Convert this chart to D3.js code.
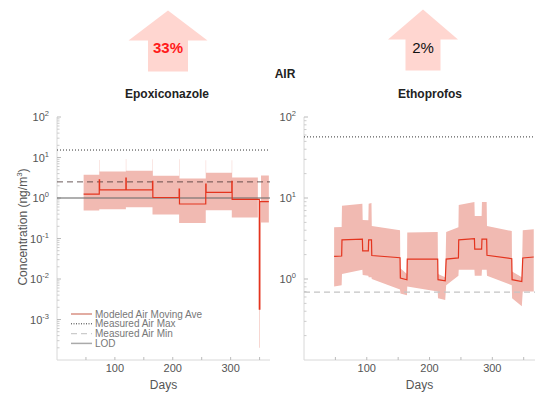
<!DOCTYPE html>
<html><head><meta charset="utf-8">
<script src="https://cdn.jsdelivr.net/npm/d3@7"></script>
<style>
body{margin:0;background:#fff;}
svg{display:block;font-family:"Liberation Sans",Arial,sans-serif;}
</style></head>
<body>
<script>
// ---------- DATA ----------
const compounds = ["Epoxiconazole", "Ethoprofos"];
const changePct = ["33%", "2%"];
const medium = "AIR";

// Epoxiconazole (step-after series)
const epoDays  = [46, 73, 73.6, 119, 119.6, 165, 165.6, 211, 211.6, 257, 257.6, 302, 302.6, 347, 349.5, 350.5, 352.5, 366];
const epoMean  = [1.25, 2.8, 1.58, 3.1, 1.58, 2.57, 1.03, 1.67, 0.71, 2.2, 1.37, 2.57, 0.92, 0.93, 0.0018, 0.81, 0.81, 0.81];
const epoUpper = [3.76, 8.7, 4.5, 9.2, 4.7, 9.0, 3.55, 9.0, 3.05, 8.5, 4.2, 8.5, 3.2, 0.95, 0.9, 0.85, 3.6, 3.6];
const epoLower = [0.49, 0.53, 0.53, 0.59, 0.59, 0.39, 0.39, 0.24, 0.24, 0.5, 0.5, 0.33, 0.33, 0.9, 0.0002, 0.8, 0.25, 0.25];
const epoMax = 15.3, epoMin = 2.5, epoLOD = 1.0;

// Ethoprofos (linear series with explicit steps)
const ethDays  = [48, 60, 60.5, 93, 93.5, 102.5, 103, 107.5, 108, 153, 153.5, 164, 164.5, 213, 213.5, 225, 226.5, 246, 246.5, 271.5, 272, 283, 283.5, 291, 291.5, 331, 331.5, 347, 348.5, 366];
const ethMean  = [1.9, 1.92, 3.04, 3.1, 2.23, 2.23, 3.04, 3.04, 1.95, 1.83, 1.03, 0.98, 1.76, 1.76, 0.98, 0.95, 1.76, 1.82, 3.04, 3.15, 2.34, 2.34, 3.1, 3.1, 1.96, 1.78, 0.98, 0.93, 1.82, 1.87];
const ethUpper = [4.36, 4.4, 8.0, 8.5, 5.35, 5.3, 8.5, 8.7, 4.5, 4.0, 1.36, 1.15, 3.74, 3.8, 1.15, 1.05, 3.8, 4.36, 8.2, 8.9, 6.0, 6.0, 8.9, 8.9, 4.5, 3.9, 1.24, 1.05, 4.0, 4.1];
const ethLower = [0.81, 0.84, 1.15, 1.3, 1.12, 1.1, 1.05, 1.05, 1.0, 0.74, 0.66, 0.63, 0.81, 0.7, 0.58, 0.55, 0.84, 1.1, 1.3, 1.3, 1.1, 1.1, 1.3, 1.3, 1.1, 0.84, 0.58, 0.46, 0.7, 0.7];
const ethMax = 56.8, ethMin = 0.69;

const xTicks = [50, 100, 150, 200, 250, 300, 350];
const xLabels = [100, 200, 300];
const legendItems = ["Modeled Air Moving Ave", "Measured Air Max", "Measured Air Min", "LOD"];

// ---------- DRAW ----------
const W = 541, H = 394;
const svg = d3.select("body").append("svg").attr("width", W).attr("height", H);

const bandColor = "rgb(241,186,178)";
const lineColor = "rgb(228,52,30)";

function arrow(cx, tipY, headW, shaftW, headBaseY, bottomY, label, color, bold) {
  const pts = [[cx, tipY], [cx + headW/2, headBaseY], [cx + shaftW/2, headBaseY], [cx + shaftW/2, bottomY],
               [cx - shaftW/2, bottomY], [cx - shaftW/2, headBaseY], [cx - headW/2, headBaseY]];
  svg.append("polygon").attr("points", pts.map(p => p.join(",")).join(" ")).attr("fill", "#ffd6d0");
  svg.append("text").attr("x", cx).attr("y", 53).attr("text-anchor", "middle")
    .attr("font-size", 15).attr("font-weight", bold ? "bold" : "normal").attr("fill", color).text(label);
}
arrow(168, 10.5, 79, 40, 40.5, 71.5, changePct[0], "#ff1a1a", true);
arrow(423, 9.5, 70, 35, 39.5, 70.5, changePct[1], "#111", false);

svg.append("text").attr("x", 285).attr("y", 78).attr("text-anchor", "middle")
  .attr("font-size", 12).attr("font-weight", "bold").attr("fill", "#222").text(medium);

function supLabel(g, x, y, exp) {
  const t = g.append("text").attr("x", x).attr("y", y).attr("text-anchor", "end")
    .attr("font-size", 11).attr("fill", "#555");
  t.append("tspan").text("10");
  t.append("tspan").attr("dy", -5).attr("font-size", 7.5).text(exp);
}

function panel(opts) {
  const x = d3.scaleLinear().domain([0, 368]).range([opts.x0, opts.x1]);
  const y = d3.scaleLog().domain(opts.ydom).range([360, 117]);
  const g = svg.append("g");

  g.append("text").attr("x", opts.titleX).attr("y", 98).attr("text-anchor", "middle")
    .attr("font-size", 12).attr("font-weight", "bold").attr("fill", "#222").text(opts.title);

  g.append("line").attr("x1", opts.x0).attr("x2", opts.x0).attr("y1", 117).attr("y2", 360)
    .attr("stroke", "#d8d8d8").attr("stroke-width", 1);
  g.append("line").attr("x1", opts.x0).attr("x2", opts.x1).attr("y1", 360).attr("y2", 360)
    .attr("stroke", "#d8d8d8").attr("stroke-width", 1);

  const lo = Math.log10(opts.ydom[0]), hi = Math.log10(opts.ydom[1]);
  for (let e = lo; e <= hi; e++) {
    const v = Math.pow(10, e);
    if (e > lo) {
      g.append("line").attr("x1", opts.x0).attr("x2", opts.x0 + 4).attr("y1", y(v)).attr("y2", y(v))
        .attr("stroke", "#bbb");
      supLabel(g, opts.x0 - 8, y(v) + 4, String(e));
    }
    if (e < hi) for (let m = 2; m <= 9; m++) {
      g.append("line").attr("x1", opts.x0).attr("x2", opts.x0 + 2.5).attr("y1", y(m * v)).attr("y2", y(m * v))
        .attr("stroke", "#ccc");
    }
  }
  xTicks.forEach(t => {
    g.append("line").attr("x1", x(t)).attr("x2", x(t)).attr("y1", 360).attr("y2", 357).attr("stroke", "#bbb");
  });
  xLabels.forEach(t => {
    g.append("text").attr("x", x(t)).attr("y", 372).attr("text-anchor", "middle")
      .attr("font-size", 11).attr("fill", "#555").text(t);
  });
  g.append("text").attr("x", (opts.x0 + opts.x1) / 2).attr("y", 389).attr("text-anchor", "middle")
    .attr("font-size", 12).attr("fill", "#555").text("Days");

  const pts = opts.days.map((d, i) => ({d, m: opts.mean[i], u: opts.upper[i], l: opts.lower[i]}));
  const area = d3.area().x(p => x(p.d)).y0(p => y(p.l)).y1(p => y(p.u)).curve(opts.curve);
  const line = d3.line().x(p => x(p.d)).y(p => y(p.m)).curve(opts.curve);

  g.append("path").attr("d", area(pts)).attr("fill", bandColor).attr("stroke", "none");

  g.append("line").attr("x1", opts.x0).attr("x2", opts.x1).attr("y1", y(opts.max)).attr("y2", y(opts.max))
    .attr("stroke", "#333").attr("stroke-width", 1).attr("stroke-dasharray", "1,2");
  g.append("line").attr("x1", opts.x0).attr("x2", opts.x1).attr("y1", y(opts.min)).attr("y2", y(opts.min))
    .attr("stroke", opts.minColor).attr("stroke-width", opts.minWidth).attr("stroke-dasharray", "6,4");
  if (opts.lod) {
    g.append("line").attr("x1", opts.x0).attr("x2", opts.x1).attr("y1", y(opts.lod)).attr("y2", y(opts.lod))
      .attr("stroke", "rgba(110,110,110,0.55)").attr("stroke-width", 1.8);
  }
  g.append("path").attr("d", line(pts)).attr("fill", "none").attr("stroke", lineColor).attr("stroke-width", 1.2);
  return g;
}

panel({title: compounds[0], titleX: 167, x0: 57, x1: 270, ydom: [1e-4, 1e2],
  days: epoDays, mean: epoMean, upper: epoUpper, lower: epoLower, curve: d3.curveStepAfter,
  max: epoMax, min: epoMin, lod: epoLOD, minColor: "rgba(70,50,50,0.8)", minWidth: 1});
panel({title: compounds[1], titleX: 430, x0: 304, x1: 535, ydom: [1e-1, 1e2],
  days: ethDays, mean: ethMean, upper: ethUpper, lower: ethLower, curve: d3.curveLinear,
  max: ethMax, min: ethMin, lod: null, minColor: "#c4c4c4", minWidth: 1.3});

svg.append("text").attr("transform", "translate(27,227) rotate(-90)").attr("text-anchor", "middle")
  .attr("font-size", 12).attr("fill", "#555")
  .html('Concentration (ng/m<tspan dy="-5" font-size="8">3</tspan><tspan dy="5">)</tspan>');

const lg = svg.append("g");
const legStyles = [
  {stroke: "rgb(226,172,162)", dash: null, w: 2},
  {stroke: "#333", dash: "1,1.5", w: 1},
  {stroke: "#ccc", dash: "6,4", w: 1.2},
  {stroke: "#aaa", dash: null, w: 1.5}
];
legendItems.forEach((t, i) => {
  const yy = 314 + i * 9.8;
  lg.append("line").attr("x1", 71).attr("x2", 92).attr("y1", yy).attr("y2", yy)
    .attr("stroke", legStyles[i].stroke).attr("stroke-width", legStyles[i].w)
    .attr("stroke-dasharray", legStyles[i].dash);
  lg.append("text").attr("x", 95).attr("y", yy + 3.5).attr("font-size", 10).attr("fill", "#777").text(t);
});
</script>
</body></html>
